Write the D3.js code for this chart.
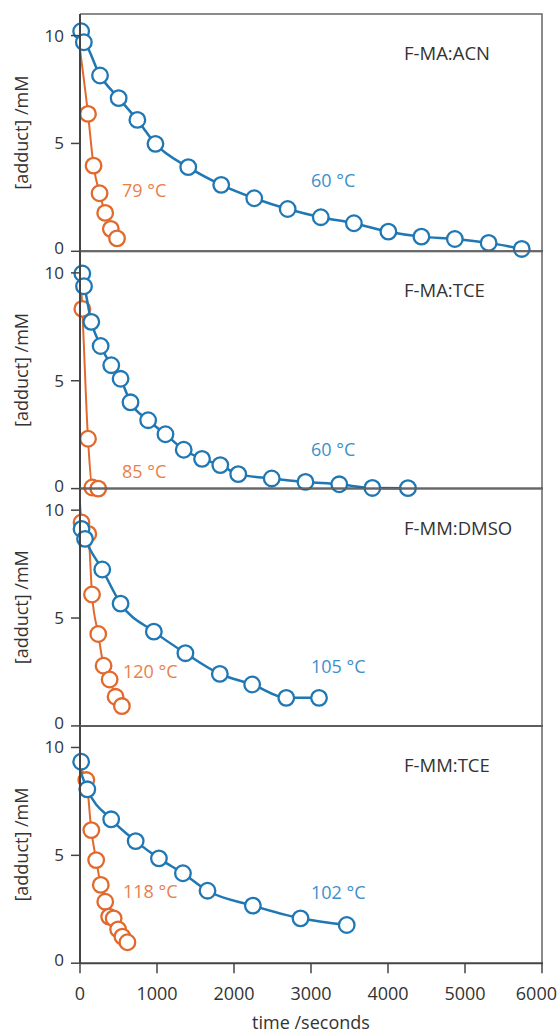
<!DOCTYPE html>
<html lang="en">
<head>
  <meta charset="UTF-8">
  <title>Adduct decay</title>
  <script src="https://d3js.org/d3.v7.min.js"></script>
  <style>
    body {
      margin: 0;
      background-color: #fff;
      font-family: "Open Sans", sans-serif;
    }
    .tick-label {
      font-size: 18px;
      fill: #333;
    }
    .y-tick-label {
      font-size: 17px;
      fill: #333;
    }
    .axis-title {
      font-size: 18px;
      fill: #333;
    }
    .panel-title {
      font-size: 18.5px;
      fill: #333;
    }
  </style>
</head>
<body>
  <svg width="557" height="1033"></svg>
  <script>
    // panel names and temperature labels
    const panelNames = ["F-MA:ACN", "F-MA:TCE", "F-MM:DMSO", "F-MM:TCE"];
    const hotLabels = ["79 °C", "85 °C", "120 °C", "118 °C"];
    const coolLabels = ["60 °C", "60 °C", "105 °C", "102 °C"];

    const xTicks = [0, 1000, 2000, 3000, 4000, 5000, 6000];
    const yTicks = [0, 5, 10];

    // low temperature runs (blue)
    const coolT1 = [15, 50, 260, 502, 745, 980, 1406, 1834, 2263, 2697, 3127, 3557, 4005, 4434, 4868, 5307, 5737];
    const coolV1 = [10.2, 9.69, 8.15, 7.1, 6.09, 4.98, 3.9, 3.08, 2.46, 1.96, 1.58, 1.3, 0.91, 0.68, 0.57, 0.39, 0.11];
    const coolT2 = [30, 52, 147, 268, 406, 527, 656, 885, 1110, 1347, 1585, 1822, 2055, 2490, 2928, 3367, 3797, 4259];
    const coolV2 = [9.97, 9.38, 7.73, 6.61, 5.72, 5.09, 4.0, 3.17, 2.52, 1.8, 1.38, 1.09, 0.67, 0.47, 0.31, 0.2, 0.03, 0.02];
    const coolT3 = [20, 65, 289, 527, 959, 1369, 1816, 2236, 2679, 3104];
    const coolV3 = [9.13, 8.67, 7.25, 5.67, 4.37, 3.37, 2.41, 1.92, 1.3, 1.3];
    const coolT4 = [15, 95, 405, 723, 1025, 1337, 1656, 2245, 2864, 3464];
    const coolV4 = [9.34, 8.06, 6.67, 5.66, 4.86, 4.17, 3.36, 2.67, 2.08, 1.77];

    // high temperature runs (orange)
    const hotT1 = [104, 176, 254, 327, 400, 481];
    const hotV1 = [6.37, 3.97, 2.69, 1.78, 1.04, 0.6];
    const hotT2 = [30, 104, 160, 237];
    const hotV2 = [8.33, 2.31, 0.05, 0.0];
    const hotT3 = [20, 108, 156, 237, 306, 385, 462, 544];
    const hotV3 = [9.43, 8.9, 6.09, 4.26, 2.79, 2.15, 1.35, 0.92];
    const hotT4 = [82, 147, 210, 270, 328, 378, 437, 495, 551, 616];
    const hotV4 = [8.49, 6.17, 4.78, 3.63, 2.85, 2.16, 2.08, 1.57, 1.23, 0.97];

    // fitted curves start value at t = 0
    const coolFit0 = [9.75, 9.75, 9.3, 8.95];
    const hotFit0 = [9.35, 10.5, 10.35, 9.03];

    const coolT = [coolT1, coolT2, coolT3, coolT4];
    const coolV = [coolV1, coolV2, coolV3, coolV4];
    const hotT = [hotT1, hotT2, hotT3, hotT4];
    const hotV = [hotV1, hotV2, hotV3, hotV4];

    const blue = "#1f77b4", orange = "#e2692c";
    const blueText = "#3d8fcb", orangeText = "#e9804c";

    const svg = d3.select("svg");
    const left = 80, right = 542, top0 = 14, panelH = 237.3;

    const x = d3.scaleLinear().domain([0, 6000]).range([left, right]);

    // temperature label anchors (pixels)
    const hotPos = [[122, 197], [122, 478], [123, 678], [123, 898]];
    const coolPos = [[311, 187], [311, 456], [311, 673], [311, 899]];

    panelNames.forEach((name, i) => {
      const top = top0 + i * panelH, bottom = top + panelH;
      const y = d3.scaleLinear().domain([0, 11]).range([bottom, top]);
      const g = svg.append("g");

      // frame: top + right
      g.append("path")
        .attr("d", `M${left},${top}H${right}V${bottom}`)
        .attr("fill", "none")
        .attr("stroke", "#666")
        .attr("stroke-width", 1.5);

      const line = d3.line()
        .x(d => x(d[0]))
        .y(d => y(d[1]))
        .curve(d3.curveMonotoneX);

      function drawSeries(ts, vs, fit0, from, color, sw) {
        const pts = ts.map((t, k) => [t, vs[k]]);
        const linePts = [[0, fit0]].concat(pts.slice(from));
        g.append("path")
          .attr("d", line(linePts))
          .attr("fill", "none")
          .attr("stroke", color)
          .attr("stroke-width", sw);
        g.selectAll(null)
          .data(pts)
          .enter()
          .append("circle")
          .attr("cx", d => x(d[0]))
          .attr("cy", d => y(d[1]))
          .attr("r", 7.8)
          .attr("fill", "#fff")
          .attr("stroke", color)
          .attr("stroke-width", 2.3);
      }

      drawSeries(hotT[i], hotV[i], hotFit0[i], 0, orange, 2);
      drawSeries(coolT[i], coolV[i], coolFit0[i], 1, blue, 2.5);

      // axes
      g.append("line")
        .attr("x1", left).attr("x2", left)
        .attr("y1", top).attr("y2", bottom)
        .attr("stroke", "#444").attr("stroke-width", 2);
      g.append("line")
        .attr("x1", left).attr("x2", right + 1)
        .attr("y1", bottom).attr("y2", bottom)
        .attr("stroke", "#444").attr("stroke-width", 2);

      yTicks.forEach(v => {
        g.append("line")
          .attr("x1", left - 9).attr("x2", left)
          .attr("y1", y(v)).attr("y2", y(v))
          .attr("stroke", "#444").attr("stroke-width", 1.5);
        g.append("text")
          .attr("class", "y-tick-label")
          .attr("x", left - 16)
          .attr("y", y(v) + (v === 0 ? -3 : 0))
          .attr("dy", "0.35em")
          .attr("text-anchor", "end")
          .text(v);
      });

      g.append("text")
        .attr("class", "axis-title")
        .attr("transform", `translate(28,${(top + bottom) / 2}) rotate(-90)`)
        .attr("text-anchor", "middle")
        .text("[adduct] /mM");

      g.append("text")
        .attr("class", "panel-title")
        .attr("x", 404)
        .attr("y", top + 46)
        .text(name);

      // temperature labels
      svg.append("text")
        .attr("x", hotPos[i][0]).attr("y", hotPos[i][1])
        .attr("font-size", "18px")
        .attr("fill", orangeText)
        .text(hotLabels[i]);
      svg.append("text")
        .attr("x", coolPos[i][0]).attr("y", coolPos[i][1])
        .attr("font-size", "18px")
        .attr("fill", blueText)
        .text(coolLabels[i]);

      if (i === panelNames.length - 1) {
        xTicks.forEach(t => {
          g.append("line")
            .attr("x1", x(t)).attr("x2", x(t))
            .attr("y1", bottom).attr("y2", bottom + 10)
            .attr("stroke", "#444").attr("stroke-width", 1.5);
          g.append("text")
            .attr("class", "tick-label")
            .attr("x", t === 6000 ? 557 : x(t))
            .attr("y", bottom + 37)
            .attr("text-anchor", t === 6000 ? "end" : "middle")
            .text(t);
        });
        g.append("text")
          .attr("class", "axis-title")
          .attr("x", (left + right) / 2)
          .attr("y", bottom + 66)
          .attr("text-anchor", "middle")
          .text("time /seconds");
      }
    });
  </script>
</body>
</html>
